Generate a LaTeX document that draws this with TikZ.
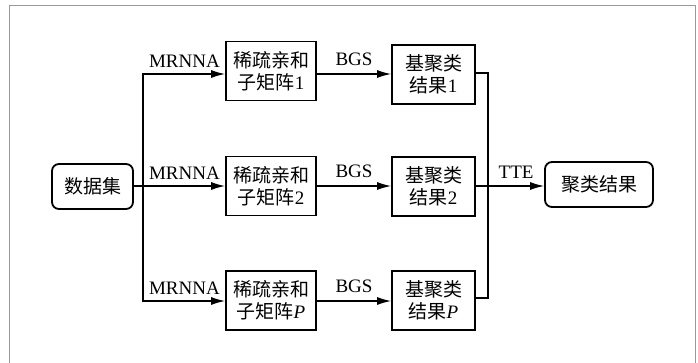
\documentclass[tikz,border=0pt]{standalone}
\usepackage{fontspec}
\setmainfont{Liberation Serif}
\newfontfamily\cjk{Noto Sans CJK SC}
\usetikzlibrary{arrows.meta}
\definecolor{framegray}{gray}{0.6}
\tikzset{
  txt/.style={font=\fontsize{19}{22}\selectfont},
  procbox/.style={txt,draw,line width=1.8pt,align=center,inner sep=0pt,minimum width=#1,minimum height=59pt},
  endbox/.style={txt,draw,line width=1.8pt,rounded corners=7pt,align=center,inner sep=0pt,minimum height=45pt,minimum width=#1},
  conn/.style={line width=1.3pt},
  arr/.style={conn,-{Latex[length=14pt,width=8pt]}},
  lbl/.style={txt,inner sep=0pt}
}
\begin{document}
\begin{tikzpicture}[x=1pt,y=-1pt]
\useasboundingbox (0,0) rectangle (698,362);
\draw[framegray,line width=1.2pt] (9.5,364) -- (9.5,5.5) -- (695.5,5.5) -- (695.5,364);

\node[endbox=81pt] (ds) at (92.5,186.5) {\cjk 数据集};
\node[procbox=90pt] (m1) at (271,71) {{\cjk 稀疏亲和}\\{\cjk 子矩阵}1};
\node[procbox=90pt] (m2) at (271,186) {{\cjk 稀疏亲和}\\{\cjk 子矩阵}2};
\node[procbox=90pt] (m3) at (271,300.5) {{\cjk 稀疏亲和}\\{\cjk 子矩阵}\textit{P}};
\node[procbox=83pt] (r1) at (433.5,74.5) {{\cjk 基聚类}\\{\cjk 结果}1};
\node[procbox=83pt] (r2) at (433.5,186.5) {{\cjk 基聚类}\\{\cjk 结果}2};
\node[procbox=83pt] (r3) at (433.5,300.5) {{\cjk 基聚类}\\{\cjk 结果}\textit{P}};
\node[endbox=108pt] (res) at (599,184.5) {\cjk 聚类结果};

\coordinate (bl) at (143,186);
\coordinate (br) at (488,186);

\draw[conn] (ds.east |- bl) -- (bl);
\draw[arr] (bl) |- (m1.west |- 0,74);
\draw[arr] (bl) -- (m2.west |- bl);
\draw[arr] (bl) |- (m3.west |- 0,301);

\draw[arr] (m1.east |- 0,74) -- (r1.west |- 0,74) node[lbl,midway,above=8pt] {BGS};
\draw[arr] (m2.east |- bl) -- (r2.west |- bl) node[lbl,midway,above=8pt] {BGS};
\draw[arr] (m3.east |- 0,301) -- (r3.west |- 0,301) node[lbl,midway,above=8pt] {BGS};

\node[lbl,anchor=south east] (l1) at (220,68) {MRNNA};
\node[lbl,anchor=south east] (l2) at (220,180) {MRNNA};
\node[lbl,anchor=south east] (l3) at (220,295) {MRNNA};

\draw[conn] (r1.east |- 0,73) -| (br) |- (r3.east |- 0,298);
\draw[arr] (r2.east |- bl) -- (res.west |- bl) node[lbl,pos=0.59,above=7pt] {TTE};
\end{tikzpicture}
\end{document}
